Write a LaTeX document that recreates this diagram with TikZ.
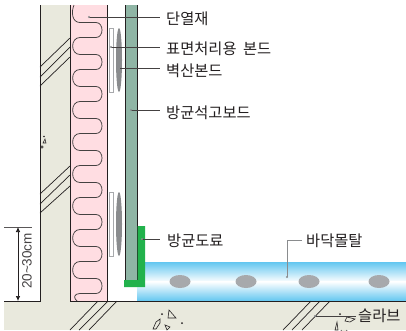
\documentclass[tikz,border=0pt]{standalone}
\usepackage{fontspec}
\setmainfont{Liberation Sans}
\newfontfamily\krfont{Noto Sans CJK KR}
\usetikzlibrary{arrows.meta}
\definecolor{wallc}{HTML}{E9E9DD}
\definecolor{pinkc}{HTML}{FFDDE2}
\definecolor{boardc}{HTML}{8FB5A5}
\definecolor{greenc}{HTML}{22B24C}
\definecolor{skyc}{HTML}{62C6F0}
\definecolor{ink}{HTML}{231F20}
\definecolor{greyc}{HTML}{8A8C8E}
\definecolor{spotc}{HTML}{A7A9AC}
\tikzset{
  x=1pt,y=-1pt,
  outline/.style={draw=ink,line width=0.9pt},
  thin line/.style={draw=ink,line width=0.7pt},
  leader/.style={draw=ink!85,line width=0.8pt},
  lab/.style={font=\krfont\fontsize{15.3}{17}\selectfont,text=ink,inner sep=0pt,anchor=west},
  coil/.style={draw=ink!85,line width=0.75pt,line join=round},
  spot/.style={fill=spotc,draw=none},
  debris/.style={draw=ink,line width=0.6pt,fill=wallc}
}
\begin{document}
\begin{tikzpicture}
\useasboundingbox (0,0) rectangle (406,330);
\fill[white] (0,0) rectangle (406,330);
% wall and slab
\fill[wallc] (40,5) rectangle (70,301);
\fill[wallc] (4,301) rectangle (406,330);
\fill[pinkc] (70,5) rectangle (107,301);
% mortar
\fill[top color=skyc,bottom color=white,draw=none] (137,262) rectangle (406,282);
\fill[top color=white,bottom color=skyc,draw=none] (137,281.5) rectangle (406,301);
\foreach \n/\cx in {a/180,b/246,c/309,d/379}
  \fill[spot] (\cx,281.5) ellipse (10.5 and 6.5);
% coil: top start, then repeated right and left turns
\draw[coil] (74,5) .. controls (71,12) and (72,22.5) .. (80,22.5);
\foreach \t in {0,32,64,96,128,160,192,224,256}{
  \draw[coil] (80,\t+22.5) -- (96,\t+22.5)
    .. controls (104,\t+22.5) and (104,\t+37.5) .. (96,\t+37.5)
    -- (80,\t+37.5);
}
\foreach \t in {0,32,64,96,128,160,192,224}{
  \draw[coil] (80,\t+37.5) .. controls (70.2,\t+37.5) and (70.2,\t+54.5) .. (80,\t+54.5);
}
\draw[coil] (80,293.5) .. controls (74,293.5) and (73,298) .. (77,301);
% boards
\fill[boardc] (125,5) rectangle (137.5,281);
\draw[outline] (125,5) -- (125,281) (137.5,5) -- (137.5,281);
\fill[greenc] (137.5,226) rectangle (145,287) (124,280) rectangle (145,287);
% surface board and adhesive
\foreach \ya/\yb in {28/92,192/256}{
  \draw[draw=spotc,fill=white,line width=0.8pt] (109.5,\ya) rectangle (113.5,\yb);
  \fill[greyc] (119,{(\ya+\yb)/2}) ellipse (3 and 32);
}
% outlines
\draw[outline] (40,5) -- (40,301) -- (4,301);
\draw[outline] (70,5) -- (70,301) -- (406,301);
\draw[outline] (107,5) -- (107,301);
% break lines
\foreach \a/\b in {38/67,47/77,57/86,166/194,175/204,186/213}
  \draw[thin line] (70,\a) -- (40,\b);
\foreach \a/\b in {98/70,108/79,117/89,311/283,320/292,330/302}
  \draw[thin line] (\a,301) -- (\b,330);
% dimension
\draw[outline,draw=ink!75] (4,227) -- (32,227);
\coordinate (dimT) at (18,227);
\coordinate (dimB) at (18,301);
\draw[thin line,{Latex[length=5pt,width=4.5pt]}-{Latex[length=5pt,width=4.5pt]}] (dimT) -- (dimB);
\node[font=\fontsize{13.5}{15}\selectfont,text=ink!85,rotate=90,inner sep=0pt] (dim) at (27,261) {20\textasciitilde30cm};
% debris
\draw[debris] (43,143) -- (45,139) -- (46,143) -- cycle;
\draw[debris] (42,147) circle (1.2);
\fill[ink] (44,136.5) circle (0.9);
\draw[debris] (169,310) -- (176,318) -- (168,318) -- cycle;
\draw[debris] (153,329) -- (156,322) -- (160,319) -- (160,323) -- (156,329) -- cycle;
\draw[debris] (165,325) -- (170,327) -- (167,330) -- cycle;
\fill[ink] (162,314) circle (1) (182,323) circle (1);
\draw[debris] (347,317) -- (355,319) -- (350,322) -- (345,321) -- cycle;
\draw[debris] (335,330) -- (337,322) -- (338,330) -- cycle;
\draw[debris] (341,330) arc (180:360:3 and -3);
\fill[ink] (340,314) circle (1);
% labels
\node[lab] (l1) at (166,19) {단열재};
\node[lab] (l2) at (166,48.5) {표면처리용\hspace{3pt} 본드};
\node[lab] (l3) at (166,71) {벽산본드};
\node[lab] (l4) at (166,112.5) {방균석고보드};
\node[lab] (l5) at (167,241) {방균도료};
\node[lab] (l6) at (306,241) {바닥몰탈};
\node[lab] (l7) at (358,315.5) {슬라브};
\coordinate (p1) at (89,17);
\coordinate (p2) at (111,47);
\coordinate (p3) at (120,68);
\coordinate (p4) at (131,110);
\coordinate (p5) at (142,239);
\coordinate (p6) at (287,277);
\coordinate (p7) at (315,316);
\draw[leader] (p1) -- (160,17);
\draw[leader] (p2) -- (160,47);
\draw[leader] (p3) -- (160,68);
\draw[leader] (p4) -- (160,110);
\draw[leader] (p5) -- (160,239);
\draw[leader,draw=greyc,line width=1pt] (p6) -- (287,240) -- (302,240);
\draw[leader] (p7) -- (356,316);
\foreach \p in {p1,p2,p4,p5,p6,p7} \fill[greyc] (\p) circle (1.2);
\end{tikzpicture}
\end{document}
